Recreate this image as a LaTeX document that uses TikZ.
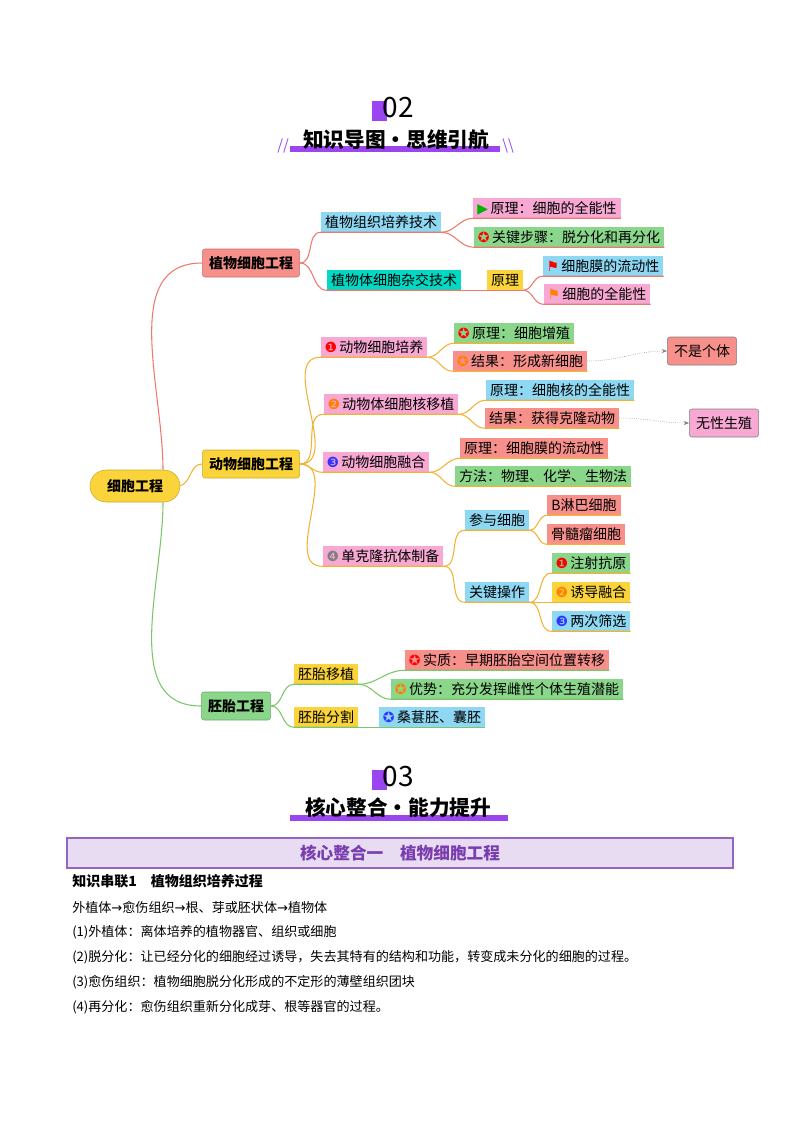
\documentclass[tikz,border=0pt]{standalone}
\usepackage{fontspec}
\setmainfont{Noto Sans CJK SC}
\newfontfamily\sym{DejaVu Sans}
\usetikzlibrary{arrows.meta}

\definecolor{cpink}{HTML}{F7A8D3}
\definecolor{cgreen}{HTML}{8AD68A}
\definecolor{csalmon}{HTML}{F78F8A}
\definecolor{cblue}{HTML}{8ED8F4}
\definecolor{cteal}{HTML}{00D9C4}
\definecolor{cyel}{HTML}{FAD43A}
\definecolor{bred}{HTML}{EB7A6E}
\definecolor{bora}{HTML}{F2B236}
\definecolor{bgrn}{HTML}{7CC66A}
\definecolor{cpur}{HTML}{9B45F0}
\definecolor{ctitle}{HTML}{7A3DB0}

\newcommand\ic[2]{\textcolor{#1}{\sym #2}\,}

\tikzset{
  box/.style={rectangle, fill=#1, inner xsep=3pt, inner ysep=2pt, minimum height=15pt,
    font=\fontsize{10.5}{12}\selectfont},
  lvl/.style={rectangle, rounded corners=2pt, fill=#1, draw=#1!80!black, inner xsep=5pt,
    minimum height=21pt, font=\bfseries\fontsize{10.5}{12}\selectfont},
  note/.style={rectangle, rounded corners=2pt, fill=#1, draw=gray, inner xsep=5pt,
    minimum height=21pt, font=\fontsize{10.5}{12}\selectfont},
  redb/.style={bred, line width=0.8pt},
  orab/.style={bora, line width=0.8pt},
  grnb/.style={bgrn, line width=0.8pt},
  txt/.style={anchor=west, inner sep=0pt, font=\fontsize{9.8}{12}\selectfont},
}

\begin{document}
\begin{tikzpicture}[x=0.75pt,y=-0.75pt]
\useasboundingbox (0,0) rectangle (800,1132);

% headers
\fill[cpur] (372,101) rectangle (387,121);
\node[font=\fontsize{21}{24}\selectfont] (n02) at (398,108) {02};
\fill[cpur] (290,146) rectangle (500,152);
\node[font=\bfseries\fontsize{15.5}{18}\selectfont] (t02) at (396,140) {知识导图·思维引航};
\node[cpur, font=\fontsize{11}{12}\selectfont] at (283,146) {//};
\node[cpur, font=\fontsize{11}{12}\selectfont] at (508,146) {\textbackslash\textbackslash};

\fill[cpur] (372,770) rectangle (387,790);
\node[font=\fontsize{21}{24}\selectfont] (n03) at (398,777) {03};
\fill[cpur] (290,815) rectangle (508,821);
\node[font=\bfseries\fontsize{15.5}{18}\selectfont] (t03) at (398,808) {核心整合·能力提升};

% mind map: main nodes
\node[lvl=cyel, rounded corners=12pt, minimum width=90pt*0.75/0.75*0.75, minimum height=24pt, inner xsep=12pt] (root) at (135,486) {细胞工程};
\node[lvl=csalmon] (plant) at (251,263) {植物细胞工程};
\node[lvl=cyel] (animal) at (251,464) {动物细胞工程};
\node[lvl=cgreen] (embryo) at (236,706) {胚胎工程};

% plant branch
\node[box=cblue] (ptc) at (381,222) {植物组织培养技术};
\node[box=cpink] (p1) at (547,208) {\ic{green!70!black}{▶}原理：细胞的全能性};
\node[box=cgreen] (p2) at (569,237) {\ic{red}{✪}关键步骤：脱分化和再分化};
\node[box=cteal] (phy) at (394,280) {植物体细胞杂交技术};
\node[box=cyel] (pyl) at (505,280) {原理};
\node[box=cblue] (p3) at (603,266) {\ic{red}{⚑}细胞膜的流动性};
\node[box=cpink] (p4) at (597,294) {\ic{orange}{⚑}细胞的全能性};

% animal branch
\node[box=cpink] (a1) at (374,347) {\ic{red}{❶}动物细胞培养};
\node[box=cgreen] (a11) at (514,333) {\ic{red}{✪}原理：细胞增殖};
\node[box=csalmon] (a12) at (520,361) {\ic{orange}{✪}结果：形成新细胞};
\node[note=csalmon] (nind) at (702,351) {不是个体};
\node[box=cpink] (a2) at (391,404) {\ic{orange}{❷}动物体细胞核移植};
\node[box=cblue] (a21) at (560,390) {原理：细胞核的全能性};
\node[box=csalmon] (a22) at (552,418) {结果：获得克隆动物};
\node[note=cpink] (nasex) at (724,423) {无性生殖};
\node[box=cpink] (a3) at (376,462) {\ic{blue!80}{❸}动物细胞融合};
\node[box=csalmon] (a31) at (534,448) {原理：细胞膜的流动性};
\node[box=cgreen] (a32) at (543,476) {方法：物理、化学、生物法};
\node[box=cpink] (a4) at (383,556) {\ic{gray}{❹}单克隆抗体制备};
\node[box=cblue] (a41) at (497,520) {参与细胞};
\node[box=csalmon] (a411) at (584,505) {B淋巴细胞};
\node[box=csalmon] (a412) at (586,534) {骨髓瘤细胞};
\node[box=cblue] (a42) at (497,592) {关键操作};
\node[box=cgreen] (a421) at (591,563) {\ic{red}{❶}注射抗原};
\node[box=cyel] (a422) at (591,592) {\ic{orange}{❷}诱导融合};
\node[box=cblue] (a423) at (591,621) {\ic{blue!80}{❸}两次筛选};

% embryo branch
\node[box=cyel] (e1) at (326,674) {胚胎移植};
\node[box=csalmon] (e11) at (507,660) {\ic{red}{✪}实质：早期胚胎空间位置转移};
\node[box=cgreen] (e12) at (507,689) {\ic{orange}{✪}优势：充分发挥雌性个体生殖潜能};
\node[box=cyel] (e2) at (326,717) {胚胎分割};
\node[box=cblue] (e21) at (432,717) {\ic{blue!80}{✪}桑葚胚、囊胚};

% connectors
\draw[redb] (root.north) ++(28,0) to[out=90,in=180] (plant.west);
\draw[orab] (root.east) to[out=20,in=180] (animal.west);
\draw[grnb] (root.south) ++(28,0) to[out=-90,in=180] (embryo.west);

\foreach \a/\b in {plant.east/ptc, plant.east/phy, ptc.south east/p1, ptc.south east/p2,
  pyl.south east/p3, pyl.south east/p4}
  \draw[redb] (\a) to[out=0,in=180] (\b.south west) -- (\b.south east);
\draw[redb] (phy.south east) -- (pyl.south west) -- (pyl.south east);

\foreach \a/\b in {animal.east/a1, animal.east/a2, animal.east/a3, animal.east/a4,
  a1.south east/a11, a1.south east/a12, a2.south east/a21, a2.south east/a22,
  a3.south east/a31, a3.south east/a32, a4.south east/a41, a4.south east/a42,
  a41.south east/a411, a41.south east/a412, a42.south east/a421, a42.south east/a422,
  a42.south east/a423}
  \draw[orab] (\a) to[out=0,in=180] (\b.south west) -- (\b.south east);

\foreach \a/\b in {embryo.east/e1, embryo.east/e2, e1.south east/e11, e1.south east/e12,
  e2.south east/e21}
  \draw[grnb] (\a) to[out=0,in=180] (\b.south west) -- (\b.south east);

\draw[gray, densely dotted, -{Stealth[length=4pt]}] (a12.east) to[out=0,in=180] (nind.west);
\draw[gray, densely dotted, -{Stealth[length=4pt]}] (a22.east) to[out=0,in=180] (nasex.west);

% section box and text
\node[draw=ctitle!80, line width=1.4pt, fill=ctitle!18, minimum width=500pt, minimum height=22pt,
  font=\bfseries\fontsize{12.5}{14}\selectfont, text=ctitle] (sec) at (400,853) {核心整合一\quad 植物细胞工程};
\node[txt, font=\bfseries\fontsize{10.5}{12}\selectfont] (l0) at (72,881) {知识串联1\quad 植物组织培养过程};
\node[txt] (l1) at (72,907) {外植体{\sym →}愈伤组织{\sym →}根、芽或胚状体{\sym →}植物体};
\node[txt] (l2) at (72,932) {(1)外植体：离体培养的植物器官、组织或细胞};
\node[txt] (l3) at (72,957) {(2)脱分化：让已经分化的细胞经过诱导，失去其特有的结构和功能，转变成未分化的细胞的过程。};
\node[txt] (l4) at (72,982) {(3)愈伤组织：植物细胞脱分化形成的不定形的薄壁组织团块};
\node[txt] (l5) at (72,1007) {(4)再分化：愈伤组织重新分化成芽、根等器官的过程。};
\end{tikzpicture}
\end{document}
